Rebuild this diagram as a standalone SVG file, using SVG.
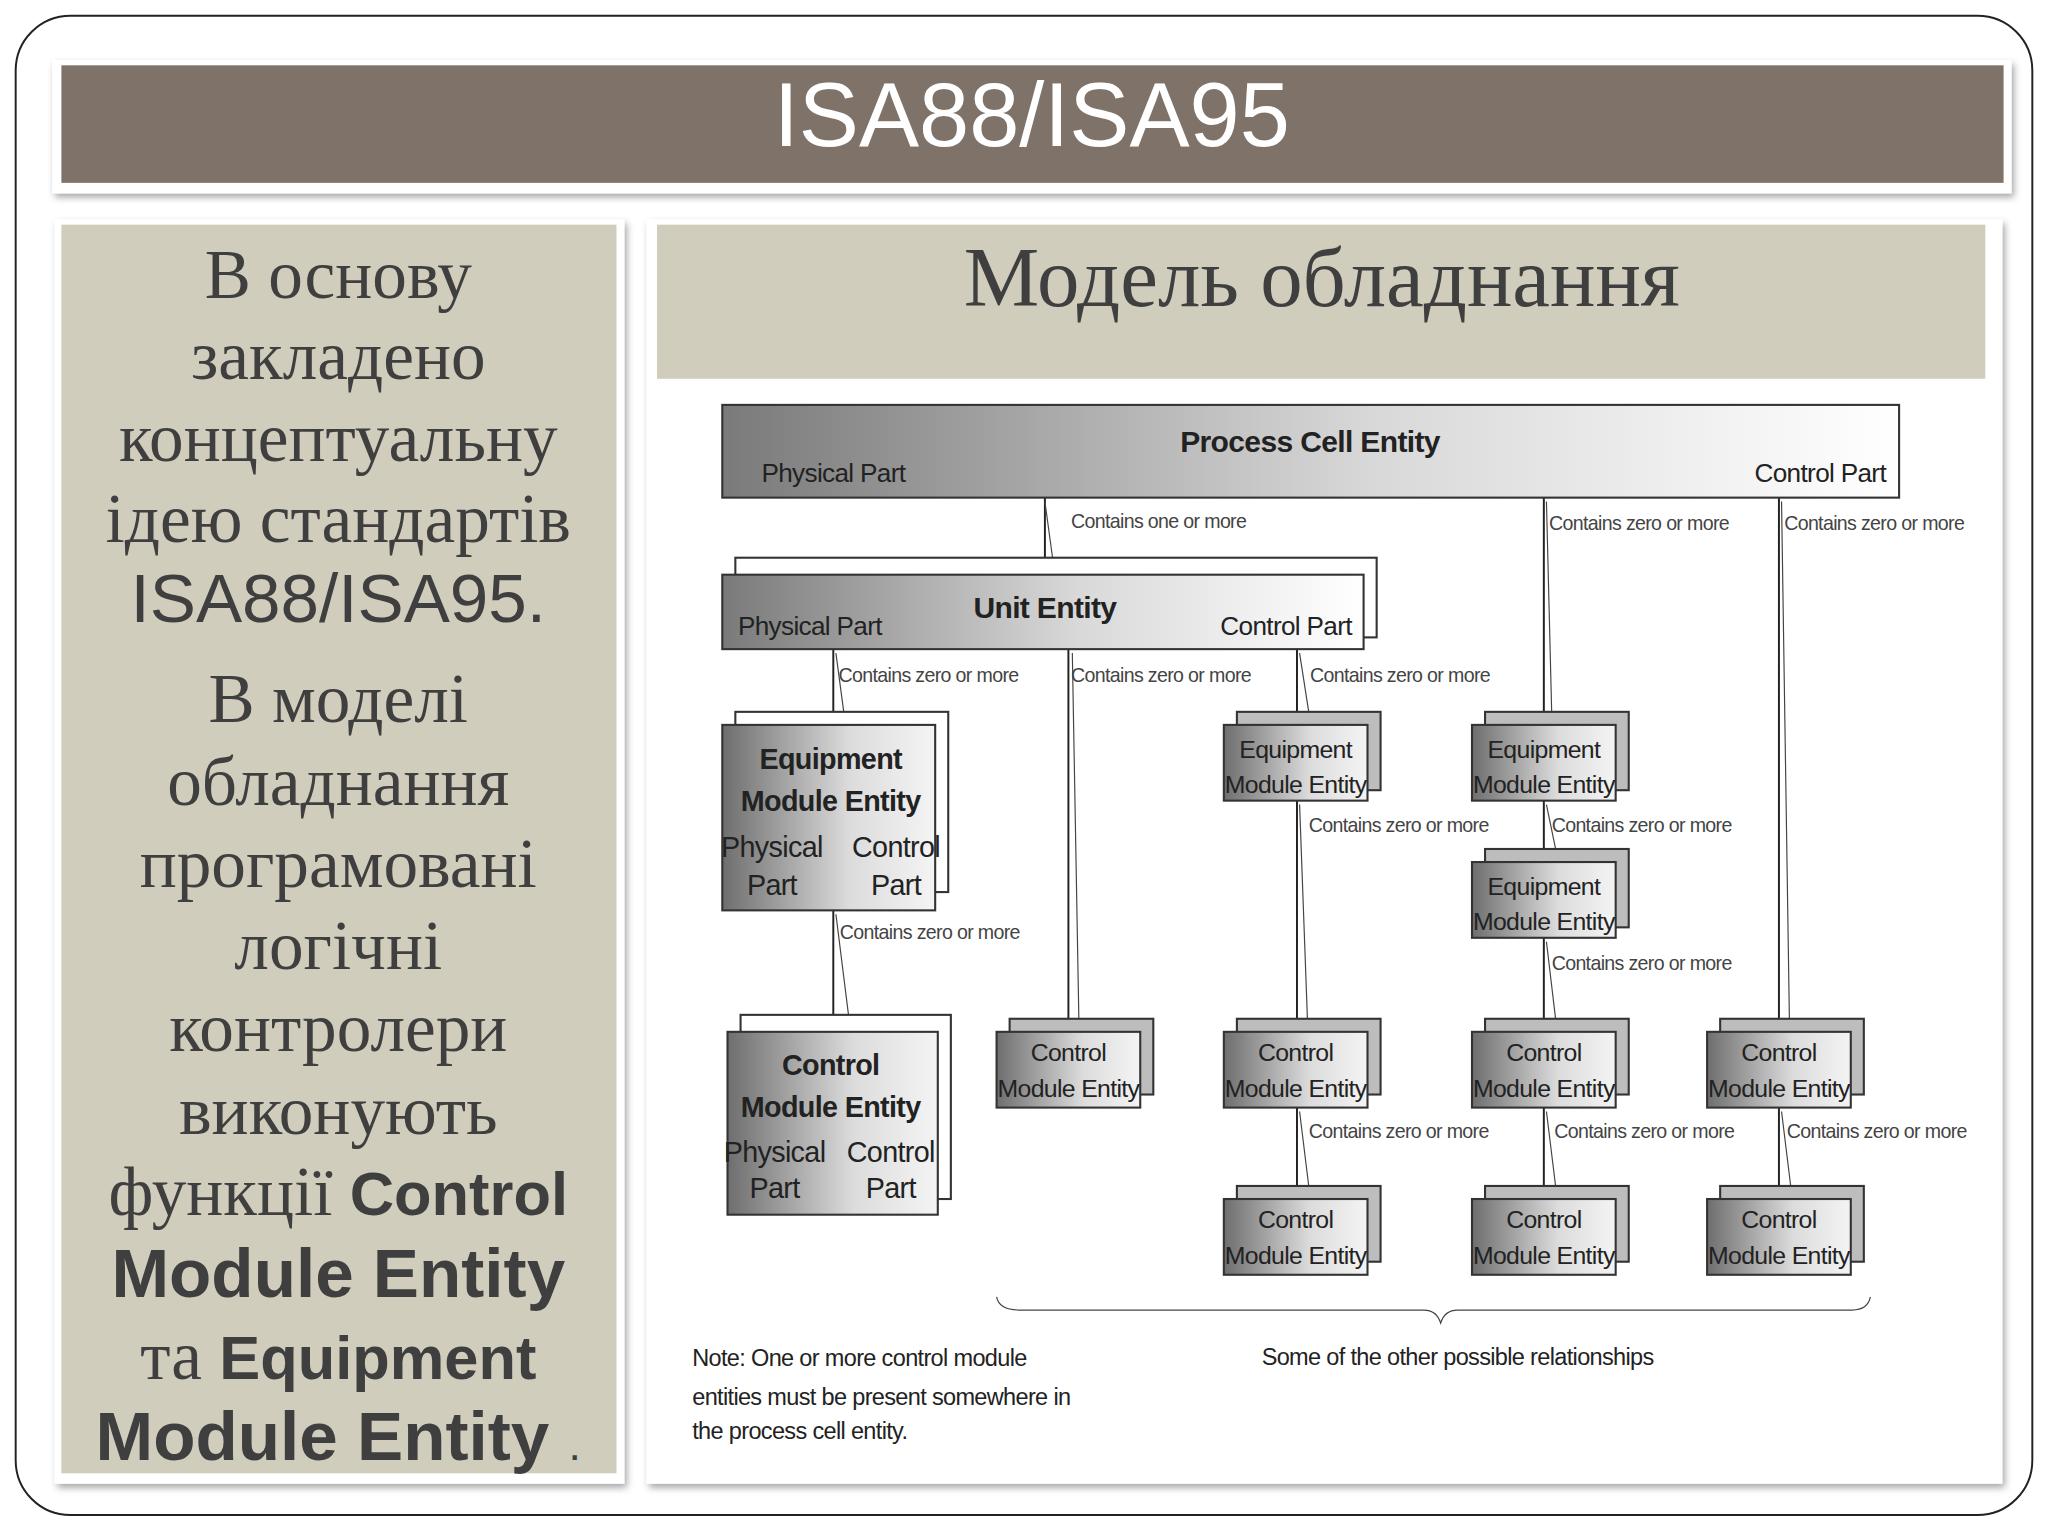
<svg xmlns="http://www.w3.org/2000/svg" width="2048" height="1536" viewBox="0 0 2048 1536">
<defs>
<linearGradient id="g" x1="0" y1="0" x2="1" y2="0"><stop offset="0" stop-color="#7a7a7a"/><stop offset="0.55" stop-color="#d8d8d8"/><stop offset="1" stop-color="#ffffff"/></linearGradient>
<linearGradient id="gs" x1="0" y1="0" x2="1" y2="0"><stop offset="0" stop-color="#6e6e6e"/><stop offset="0.6" stop-color="#dcdcdc"/><stop offset="1" stop-color="#f4f4f4"/></linearGradient>
<filter id="sh" x="-5%" y="-5%" width="110%" height="115%"><feDropShadow dx="2" dy="3" stdDeviation="3" flood-color="#000" flood-opacity="0.35"/></filter>
</defs>
<style>
.b{stroke:#333;stroke-width:1.6}
.bk{fill:#bdbdbd;stroke:#333;stroke-width:1.6}
.ln{stroke:#222;stroke-width:1.5;fill:none}
.sl{stroke:#444;stroke-width:0.9;fill:none}
.d{font-family:"Liberation Sans",Arial,sans-serif;fill:#222;letter-spacing:-0.5px}
.lb{font-size:15px;fill:#444}
.t{font-family:"Liberation Serif","DejaVu Serif",serif;fill:#3f3f3f;font-size:53px;text-anchor:middle}
.s{font-family:"Liberation Sans",Arial,sans-serif}
</style>
<rect width="2048" height="1536" fill="#fff"/>
<g transform="scale(1.30612)">
<rect x="12" y="12" width="1544" height="1148" rx="42" fill="#fff" stroke="#222" stroke-width="1.5"/>
<g id="title"><rect x="40" y="46" width="1500" height="102" fill="#fff" filter="url(#sh)"/><rect x="47" y="50" width="1487" height="90" fill="#7f7369"/>
<text x="790" y="112" text-anchor="middle" font-family="Liberation Sans,Arial,sans-serif" font-size="69" fill="#fff">ISA88/ISA95</text></g>
<g id="left"><rect x="42" y="168" width="436" height="968" fill="#fff" filter="url(#sh)"/><rect x="47" y="172" width="425" height="956" fill="#d1cdbd"/>
<text class="t" x="259" y="228">В основу</text>
<text class="t" x="259" y="290">закладено</text>
<text class="t" x="259" y="353">концептуальну</text>
<text class="t" x="259" y="415">ідею стандартів</text>
<text class="t s" x="259" y="476" font-size="45">ISA88/ISA95.</text>
<text class="t" x="259" y="553">В моделі</text>
<text class="t" x="259" y="616">обладнання</text>
<text class="t" x="259" y="679">програмовані</text>
<text class="t" x="259" y="742">логічні</text>
<text class="t" x="259" y="805">контролери</text>
<text class="t" x="259" y="868">виконують</text>
<text class="t" x="259" y="930">функції <tspan class="s" font-weight="bold" font-size="47">Control</tspan></text>
<text class="t s" x="259" y="993" font-weight="bold" font-size="47">Module Entity</text>
<text class="t" x="259" y="1056">та <tspan class="s" font-weight="bold" font-size="47">Equipment</tspan></text>
<text class="t s" x="259" y="1118" font-weight="bold" font-size="47">Module Entity <tspan font-weight="normal" font-size="34">.</tspan></text>
</g>
<g id="right"><rect x="495" y="168" width="1038" height="968" fill="#fff" filter="url(#sh)"/><rect x="503" y="172" width="1017" height="118" fill="#d1cdbd"/>
<text x="1012" y="234" text-anchor="middle" font-family="Liberation Serif,serif" font-size="65" fill="#3f3f3f">Модель обладнання</text></g>

<g id="connectors">
<path class="ln" d="M800 381V440M1182 381V555M1362 381V790M638 497V555M818 497V790M993 497V555M638 697V790M993 613V790M1182 613V660M1182 718V790M993 848V918M1182 848V918M1362 848V918"/>
<path class="sl" d="M800 384L806 428M1184 384L1188 545M1364 384L1370 780M640 500L646 545M821 500L826 780M995 500L1002 545M640 700L650 780M995 616L1001 780M1184 616L1191 650M1184 721L1191 780M995 851L1002 908M1184 851L1191 908M1364 851L1371 908"/>
<g class="d lb"><text x="820" y="404">Contains one or more</text><text x="1186" y="406">Contains zero or more</text><text x="1366" y="406">Contains zero or more</text>
<text x="642" y="522">Contains zero or more</text><text x="820" y="522">Contains zero or more</text><text x="1003" y="522">Contains zero or more</text>
<text x="643" y="719">Contains zero or more</text><text x="1002" y="637">Contains zero or more</text><text x="1188" y="637">Contains zero or more</text><text x="1188" y="743">Contains zero or more</text>
<text x="1002" y="871">Contains zero or more</text><text x="1190" y="871">Contains zero or more</text><text x="1368" y="871">Contains zero or more</text></g>
</g>

<g id="pc"><rect class="b" x="553" y="310" width="901" height="71" fill="url(#g)"/>
<text class="d" x="1003" y="346" text-anchor="middle" font-size="23" font-weight="bold">Process Cell Entity</text>
<text class="d" x="583" y="369" font-size="20" fill="#333">Physical Part</text><text class="d" x="1444" y="369" text-anchor="end" font-size="20">Control Part</text></g>
<g id="unit"><rect class="b" x="563" y="427" width="491" height="61" fill="#fff"/><rect class="b" x="553" y="440" width="491" height="57" fill="url(#g)"/>
<text class="d" x="800" y="473" text-anchor="middle" font-size="23" font-weight="bold">Unit Entity</text>
<text class="d" x="565" y="486" font-size="20">Physical Part</text><text class="d" x="1035" y="486" text-anchor="end" font-size="20">Control Part</text></g>
<g id="em-big"><rect class="b" x="563" y="545" width="163" height="138" fill="#fff"/><rect class="b" x="553" y="555" width="163" height="142" fill="url(#gs)"/>
<g class="d" text-anchor="middle" font-size="22"><text x="636" y="589" font-weight="bold">Equipment</text><text x="636" y="621" font-weight="bold">Module Entity</text>
<text x="591" y="656">Physical</text><text x="591" y="685">Part</text><text x="686" y="656">Control</text><text x="686" y="685">Part</text></g></g>
<g id="cm-big"><rect class="b" x="567" y="777" width="161" height="141" fill="#fff"/><rect class="b" x="557" y="790" width="161" height="140" fill="url(#gs)"/>
<g class="d" text-anchor="middle" font-size="22"><text x="636" y="823" font-weight="bold">Control</text><text x="636" y="855" font-weight="bold">Module Entity</text>
<text x="593" y="890">Physical</text><text x="593" y="917">Part</text><text x="682" y="890">Control</text><text x="682" y="917">Part</text></g></g>

<g id="em1"><rect class="bk" x="947" y="545" width="110" height="60"/><rect class="b" x="937" y="555" width="110" height="58" fill="url(#gs)"/><g class="d" text-anchor="middle" font-size="19"><text x="992" y="580">Equipment</text><text x="992" y="607">Module Entity</text></g></g>
<g id="em2"><rect class="bk" x="1137" y="545" width="110" height="60"/><rect class="b" x="1127" y="555" width="110" height="58" fill="url(#gs)"/><g class="d" text-anchor="middle" font-size="19"><text x="1182" y="580">Equipment</text><text x="1182" y="607">Module Entity</text></g></g>
<g id="em3"><rect class="bk" x="1137" y="650" width="110" height="60"/><rect class="b" x="1127" y="660" width="110" height="58" fill="url(#gs)"/><g class="d" text-anchor="middle" font-size="19"><text x="1182" y="685">Equipment</text><text x="1182" y="712">Module Entity</text></g></g>

<g id="cm1"><rect class="bk" x="773" y="780" width="110" height="58"/><rect class="b" x="763" y="790" width="110" height="58" fill="url(#gs)"/><g class="d" text-anchor="middle" font-size="19"><text x="818" y="812">Control</text><text x="818" y="840">Module Entity</text></g></g>
<g id="cm2"><rect class="bk" x="947" y="780" width="110" height="58"/><rect class="b" x="937" y="790" width="110" height="58" fill="url(#gs)"/><g class="d" text-anchor="middle" font-size="19"><text x="992" y="812">Control</text><text x="992" y="840">Module Entity</text></g></g>
<g id="cm3"><rect class="bk" x="1137" y="780" width="110" height="58"/><rect class="b" x="1127" y="790" width="110" height="58" fill="url(#gs)"/><g class="d" text-anchor="middle" font-size="19"><text x="1182" y="812">Control</text><text x="1182" y="840">Module Entity</text></g></g>
<g id="cm4"><rect class="bk" x="1317" y="780" width="110" height="58"/><rect class="b" x="1307" y="790" width="110" height="58" fill="url(#gs)"/><g class="d" text-anchor="middle" font-size="19"><text x="1362" y="812">Control</text><text x="1362" y="840">Module Entity</text></g></g>
<g id="cm5"><rect class="bk" x="947" y="908" width="110" height="58"/><rect class="b" x="937" y="918" width="110" height="58" fill="url(#gs)"/><g class="d" text-anchor="middle" font-size="19"><text x="992" y="940">Control</text><text x="992" y="968">Module Entity</text></g></g>
<g id="cm6"><rect class="bk" x="1137" y="908" width="110" height="58"/><rect class="b" x="1127" y="918" width="110" height="58" fill="url(#gs)"/><g class="d" text-anchor="middle" font-size="19"><text x="1182" y="940">Control</text><text x="1182" y="968">Module Entity</text></g></g>
<g id="cm7"><rect class="bk" x="1317" y="908" width="110" height="58"/><rect class="b" x="1307" y="918" width="110" height="58" fill="url(#gs)"/><g class="d" text-anchor="middle" font-size="19"><text x="1362" y="940">Control</text><text x="1362" y="968">Module Entity</text></g></g>

<path class="sl" stroke-width="1.5" d="M763 993Q765 1003 780 1003H1090Q1100 1003 1103 1013Q1106 1003 1116 1003H1418Q1430 1003 1432 993"/>
<g class="d" font-size="18" fill="#333"><text x="1116" y="1045" text-anchor="middle">Some of the other possible relationships</text>
<text x="530" y="1046">Note: One or more control module</text><text x="530" y="1076">entities must be present somewhere in</text><text x="530" y="1102">the process cell entity.</text></g>
</g>
</svg>
